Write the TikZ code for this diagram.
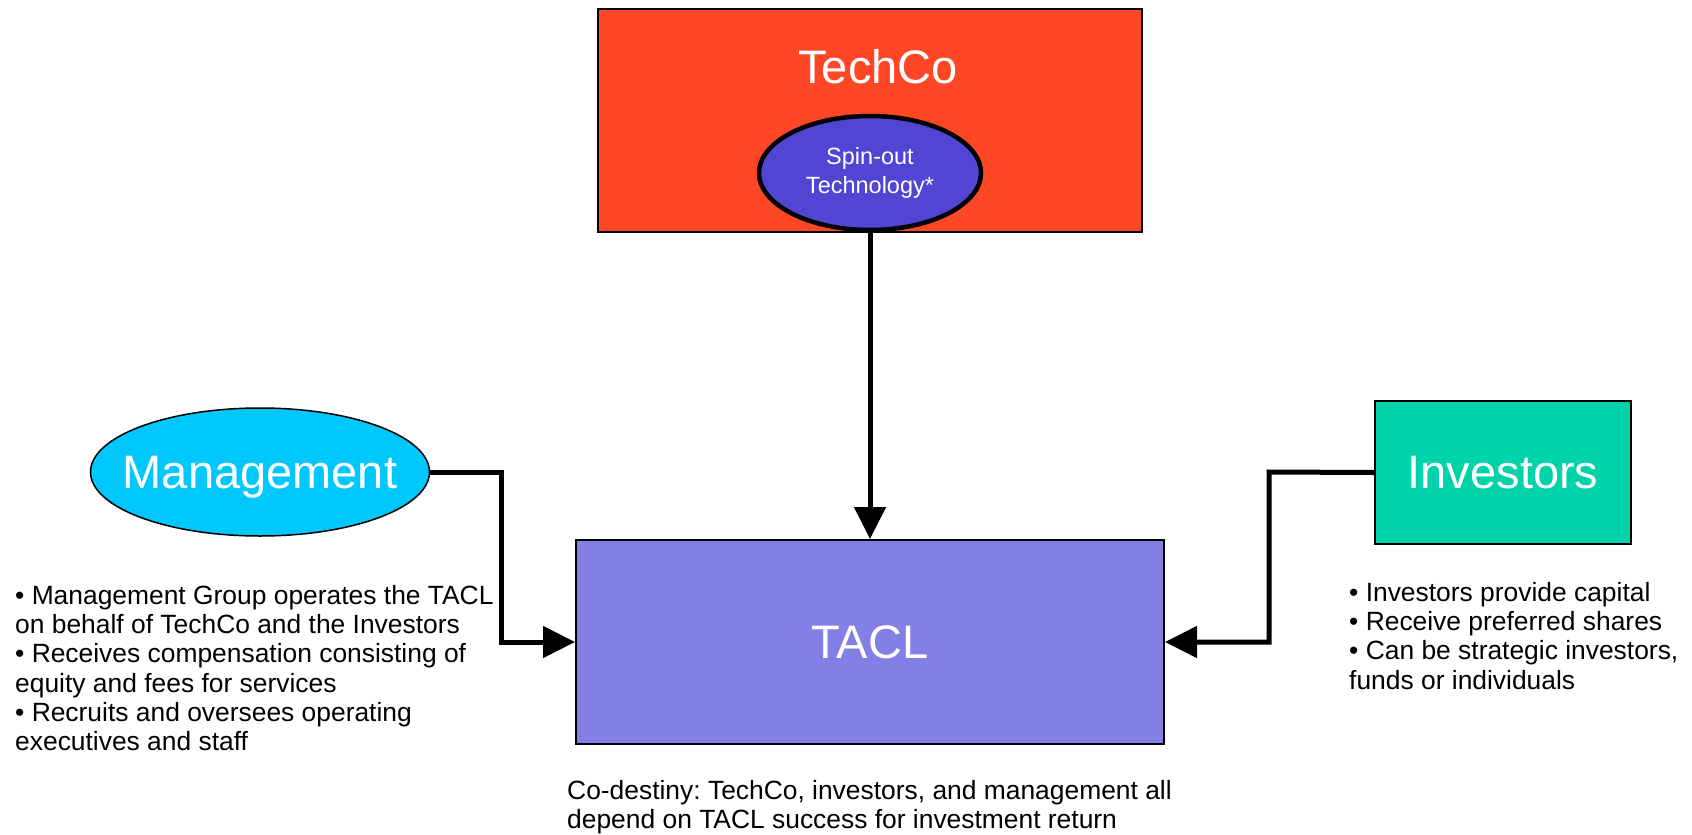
\documentclass[tikz,border=0pt]{standalone}
\usepackage{fontspec}
\setmainfont{Liberation Sans}
\usetikzlibrary{arrows.meta,shapes.geometric}
\definecolor{techred}{RGB}{255,70,37}
\definecolor{spinblue}{RGB}{81,69,212}
\definecolor{mgmtcyan}{RGB}{0,200,255}
\definecolor{invgreen}{RGB}{0,210,170}
\definecolor{taclblue}{RGB}{130,128,230}
\tikzset{
  bigtext/.style={text=white, font=\fontsize{47}{56}\selectfont, text depth=0pt},
  boxnode/.style={draw=black, line width=2pt, rectangle, inner sep=0pt},
  conn/.style={draw=black, line width=5pt, -{Triangle[length=32pt,width=31pt]}},
  bullets/.style={anchor=north west, align=left, inner sep=0pt, font=\fontsize{26.4}{29.3}\selectfont\frenchspacing}
}
\begin{document}
\begin{tikzpicture}[x=1pt,y=-1pt]
\useasboundingbox[fill=white] (0,0) rectangle (1692,835);
% TechCo
\node[boxnode, fill=techred, minimum width=544pt, minimum height=223pt] (techco) at (870,120.5) {};
\node[bigtext] (techcolabel) at (878,66) {TechCo};
\node[ellipse, draw=black, line width=4.5pt, fill=spinblue, minimum width=222pt, minimum height=114pt, inner sep=0pt, align=center, text=white, font=\fontsize{23.5}{29.5}\selectfont] (spin) at (870,173) {Spin-out\\Technology*};
% TACL
\node[boxnode, fill=taclblue, minimum width=588pt, minimum height=204pt, bigtext] (tacl) at (870,642) {TACL};
% Management
\node[ellipse, draw=black, line width=1.5pt, fill=mgmtcyan, minimum width=339pt, minimum height=128pt, inner xsep=-25pt, inner ysep=0pt, bigtext] (mgmt) at (260,472) {Management};
% Investors
\node[boxnode, fill=invgreen, minimum width=256pt, minimum height=143pt, bigtext] (inv) at (1503,472.5) {Investors};
% connectors
\coordinate (mbend) at (501,472);
\coordinate (ibend) at (1269,472);
\draw[conn] (spin.south) -- (tacl.north);
\draw[conn] (mgmt.east) -- (mbend) |- (tacl.west);
\draw[conn] (inv.west) -- (ibend) |- (tacl.east);
% texts
\node[bullets] (mtext) at (15,585) {• Management Group operates the TACL\\on behalf of TechCo and the Investors\\• Receives compensation consisting of\\equity and fees for services\\• Recruits and oversees operating\\executives and staff};
\node[bullets] (itext) at (1349,582) {• Investors provide capital\\• Receive preferred shares\\• Can be strategic investors,\\funds or individuals};
\node[bullets] (ctext) at (567,780) {Co-destiny: TechCo, investors, and management all\\depend on TACL success for investment return};
\end{tikzpicture}
\end{document}
